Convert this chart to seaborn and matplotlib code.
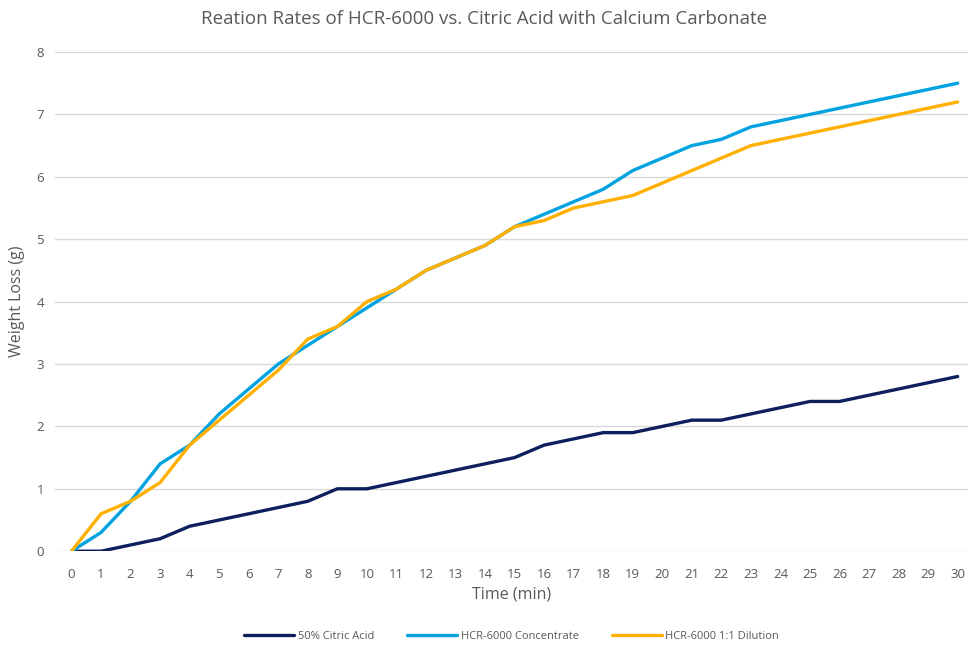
import matplotlib
matplotlib.use('Agg')
import matplotlib.pyplot as plt
import seaborn as sns
import pandas as pd

minutes = list(range(31))
citric = [0, 0, 0.1, 0.2, 0.4, 0.5, 0.6, 0.7, 0.8, 1.0, 1.0, 1.1, 1.2, 1.3, 1.4, 1.5,
          1.7, 1.8, 1.9, 1.9, 2.0, 2.1, 2.1, 2.2, 2.3, 2.4, 2.4, 2.5, 2.6, 2.7, 2.8]
concentrate = [0, 0.3, 0.8, 1.4, 1.7, 2.2, 2.6, 3.0, 3.3, 3.6, 3.9, 4.2, 4.5, 4.7, 4.9, 5.2,
               5.4, 5.6, 5.8, 6.1, 6.3, 6.5, 6.6, 6.8, 6.9, 7.0, 7.1, 7.2, 7.3, 7.4, 7.5]
dilution = [0, 0.6, 0.8, 1.1, 1.7, 2.1, 2.5, 2.9, 3.4, 3.6, 4.0, 4.2, 4.5, 4.7, 4.9, 5.2,
            5.3, 5.5, 5.6, 5.7, 5.9, 6.1, 6.3, 6.5, 6.6, 6.7, 6.8, 6.9, 7.0, 7.1, 7.2]
series_names = ['50% Citric Acid', 'HCR-6000 Concentrate', 'HCR-6000 1:1 Dilution']
colors = ['#0D1F5C', '#00A3E0', '#FFB000']

df = pd.concat([
    pd.DataFrame({'Time': minutes, 'Loss': vals, 'Series': name})
    for name, vals in zip(series_names, [citric, concentrate, dilution])
])

sns.set_style('white')
plt.rcParams['font.family'] = ['Open Sans', 'DejaVu Sans']

fig = plt.figure(figsize=(9.69, 6.5), dpi=100)
ax = fig.add_axes([0.057, 0.152, 0.942, 0.768])

sns.lineplot(data=df, x='Time', y='Loss', hue='Series', palette=colors,
             linewidth=2.4, ax=ax, legend=True)

ax.set_xlim(-0.55, 30.35)
ax.set_ylim(0, 8)
ax.set_xticks(minutes)
ax.set_yticks(range(9))
ax.grid(axis='y', color='#D9D9D9', linewidth=1)
ax.set_axisbelow(True)
for s in ax.spines.values():
    s.set_visible(False)
ax.tick_params(axis='x', length=0, labelsize=9.5, colors='#595959', pad=12)
ax.tick_params(axis='y', length=0, labelsize=9.5, colors='#595959', pad=8)

ax.set_xlabel('Time (min)', fontsize=11.5, color='#595959', labelpad=4)
ax.set_ylabel('Weight Loss (g)', fontsize=11.5, color='#595959', labelpad=8)
fig.suptitle('Reation Rates of HCR-6000 vs. Citric Acid with Calcium Carbonate',
             fontsize=13.5, color='#595959', y=0.985)

ax.legend(loc='upper center', bbox_to_anchor=(0.5, -0.14), ncol=3, frameon=False,
          fontsize=8, labelcolor='#595959', handlelength=4.5, columnspacing=3,
          handletextpad=0.3)

fig.savefig('out.png', dpi=100)
